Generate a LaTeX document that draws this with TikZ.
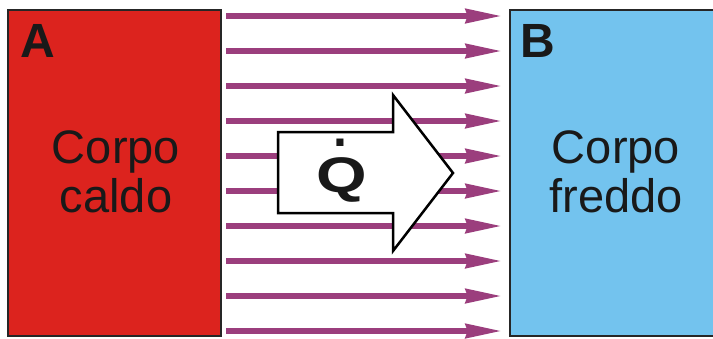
\documentclass[tikz,border=0pt]{standalone}
\usepackage{fontspec}
\setmainfont{Liberation Sans}
\usetikzlibrary{arrows.meta}
\definecolor{hotred}{RGB}{220,35,30}
\definecolor{coldblue}{RGB}{115,195,238}
\definecolor{heatpurple}{RGB}{155,62,125}
\begin{document}
\begin{tikzpicture}[x=1pt,y=-1pt,
    body/.style={draw=black!85, line width=2.5pt, minimum height=326pt, inner sep=0pt},
    bodytext/.style={font=\fontsize{47}{49}\selectfont, align=center, text=black!90},
    tag/.style={font=\fontsize{48}{48}\selectfont\bfseries, anchor=base west, inner sep=0pt, text=black!90},
    qfont/.style={font=\fontsize{50}{50}\selectfont\bfseries, inner sep=0pt, text=black!90},
    heat/.style={draw=heatpurple, line width=5.5pt, shorten <=4pt, shorten >=7pt,
      -{Stealth[length=36pt,width=14pt,inset=2pt]}},
    flow/.style={draw=black, line width=2.5pt, fill=white, line join=miter}]
    \useasboundingbox (0,0) rectangle (713,338);
    % the two bodies
    \node[body, fill=hotred, minimum width=213pt] (hot) at (114.5,173) {};
    \node[body, fill=coldblue, minimum width=220pt] (cold) at (620,173) {};
    \node[tag] (taga) at (20,57) {A};
    \node[tag] (tagb) at (520,57) {B};
    \node[bodytext] (hottext) at (116,172) {Corpo\\caldo};
    \node[bodytext] (coldtext) at (616,172) {Corpo\\freddo};
    % heat flow lines
    \foreach \y in {16,51,...,331}
      \draw[heat] (hot.east |- 0,\y) -- (cold.west |- 0,\y);
    % big arrow
    \draw[flow] (278,132) -- (393,132) -- (393,95) -- (453,173) -- (393,251)
      -- (393,213) -- (278,213) -- cycle;
    \node[qfont, anchor=base] (q) at (342,192) {\scalebox{1.3}[1]{Q}};
    \node[qfont, anchor=base] (qdot) at (340,146.5) {.};
\end{tikzpicture}
\end{document}
